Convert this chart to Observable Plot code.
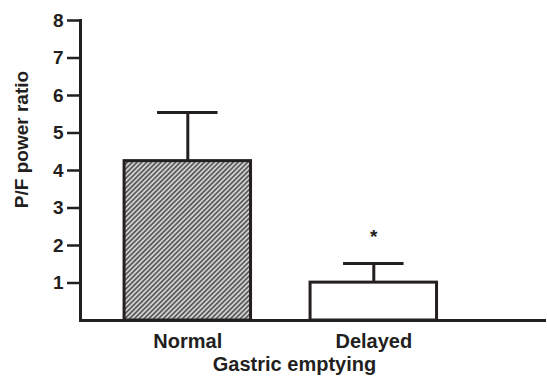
<!DOCTYPE html>
<html>
<head>
<meta charset="utf-8">
<script src="https://cdn.jsdelivr.net/npm/d3@7"></script>
<script src="https://cdn.jsdelivr.net/npm/@observablehq/plot@0.6"></script>
<style>
  html, body { margin: 0; padding: 0; background: #fff; }
  #chart svg { display: block; }
</style>
</head>
<body>
<div id="chart"></div>
<script>
const groups = ["Normal", "Delayed"];
const means = [4.25, 1.01];
const sds = [1.3, 0.51];
const marks = ["", "*"];
const yTicks = [1, 2, 3, 4, 5, 6, 7, 8];
const xTitle = "Gastric emptying";
const yTitle = "P/F power ratio";

const data = groups.map((g, i) => ({group: g, mean: means[i], sd: sds[i], upper: means[i] + sds[i], sig: marks[i]}));
const ink = "#231f20";
const font = "'Liberation Sans', Arial, Helvetica, sans-serif";

const plot = Plot.plot({
  width: 547,
  height: 377,
  marginLeft: 80,
  marginRight: 1,
  marginTop: 20,
  marginBottom: 57,
  style: {fontFamily: font, fontWeight: "bold", color: ink, background: "#fff", overflow: "visible"},
  x: {domain: groups, range: [94.3, 466.3], paddingInner: 0.32, paddingOuter: 0.16, round: false},
  y: {domain: [0, 8]},
  marks: [
    Plot.barY(data, {x: "group", y: "mean", fill: (d, i) => i === 0 ? "url(#hatch)" : "#fff", stroke: ink, strokeWidth: 3}),
    Plot.ruleX(data, {x: "group", y1: "mean", y2: "upper", stroke: ink, strokeWidth: 3}),
    Plot.tickY(data, {x: "group", y: "upper", insetLeft: 33, insetRight: 33, stroke: ink, strokeWidth: 3}),
    Plot.text(data, {x: "group", y: "upper", text: "sig", dy: -27, fontSize: 19, fontWeight: "bold", fill: ink}),
    Plot.ruleY([0], {stroke: ink, strokeWidth: 3}),
    Plot.frame({anchor: "left", stroke: ink, strokeWidth: 3}),
    Plot.axisY({ticks: yTicks, tickSize: 13, tickPadding: 4, fontSize: 19, fontWeight: "bold", strokeWidth: 2.5, stroke: ink, fill: ink, label: null}),
    Plot.axisX({tickSize: 0, tickPadding: 13, fontSize: 20, fontWeight: "bold", fill: ink, label: null}),
    Plot.text([xTitle], {frameAnchor: "bottom", dx: -19, dy: 43.6, lineAnchor: "middle", fontSize: 20, fontWeight: "bold", fill: ink}),
    Plot.text([yTitle], {frameAnchor: "left", textAnchor: "middle", dx: -59, dy: -31, rotate: -90, lineAnchor: "middle", fontSize: 19, fontWeight: "bold", fill: ink})
  ]
});

const defs = d3.create("svg:defs");
const pat = defs.append("pattern")
  .attr("id", "hatch")
  .attr("patternUnits", "userSpaceOnUse")
  .attr("width", 3.4)
  .attr("height", 3.4)
  .attr("patternTransform", "rotate(45)");
pat.append("rect").attr("width", 3.4).attr("height", 3.4).attr("fill", "#d0d0d0");
pat.append("rect").attr("width", 1.6).attr("height", 3.4).attr("fill", "#555");
plot.insertBefore(defs.node(), plot.firstChild);

document.getElementById("chart").appendChild(plot);
</script>
</body>
</html>
